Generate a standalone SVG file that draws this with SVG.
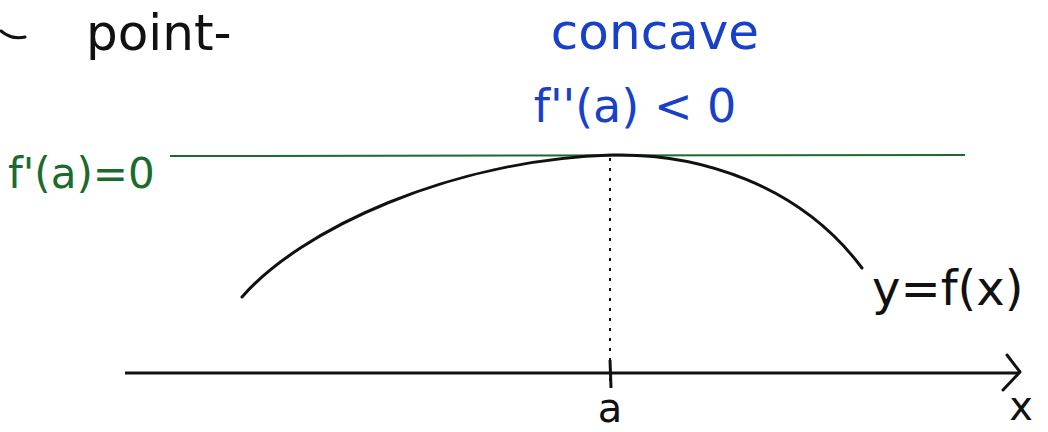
<svg xmlns="http://www.w3.org/2000/svg" width="1048" height="432" viewBox="0 0 1048 432">
<style>
.ink{fill:none;stroke:#111;stroke-width:3;stroke-linecap:round;stroke-linejoin:round}
.txt{font-family:"DejaVu Sans","Liberation Sans",sans-serif}
.blue{fill:#1840c8}
.green{fill:#1b6b2e}
.black{fill:#111}
</style>
<rect width="1048" height="432" fill="#fff"/>
<g id="heading">
<path class="ink" d="M1,31 Q12,40 25,37"/>
<text class="txt black" x="86" y="50" font-size="50">point-</text>
</g>
<g id="connectors">
<line id="tangent" x1="170" y1="156" x2="965" y2="155" stroke="#1b6b2e" stroke-width="2"/>
<path id="curve" class="ink" d="M242,297 C300,230 450,160 612,155 C700,153 800,185 862,268"/>
<line id="dotted" x1="610" y1="158" x2="610" y2="385" stroke="#111" stroke-width="2" stroke-dasharray="3,7"/>
<line id="axis" x1="125" y1="373" x2="1018" y2="373" stroke="#111" stroke-width="3"/>
<path class="ink" d="M1007,355 L1020,372 L1003,390"/>
<line id="tick" x1="610" y1="360" x2="611" y2="388" stroke="#111" stroke-width="3"/>
</g>
<g id="label-concave">
<text class="txt blue" x="655" y="49" font-size="50" text-anchor="middle">concave</text>
<text class="txt blue" x="635" y="122" font-size="46" text-anchor="middle">f''(a) &lt; 0</text>
</g>
<g id="label-tangent">
<text class="txt green" x="8" y="188" font-size="42">f'(a)=0</text>
</g>
<g id="label-curve">
<text class="txt black" x="872" y="305" font-size="48">y=f(x)</text>
</g>
<g id="label-a">
<text class="txt black" x="610" y="422" font-size="40" text-anchor="middle">a</text>
</g>
<g id="label-x">
<text class="txt black" x="1021" y="420" font-size="40" text-anchor="middle">x</text>
</g>
</svg>
